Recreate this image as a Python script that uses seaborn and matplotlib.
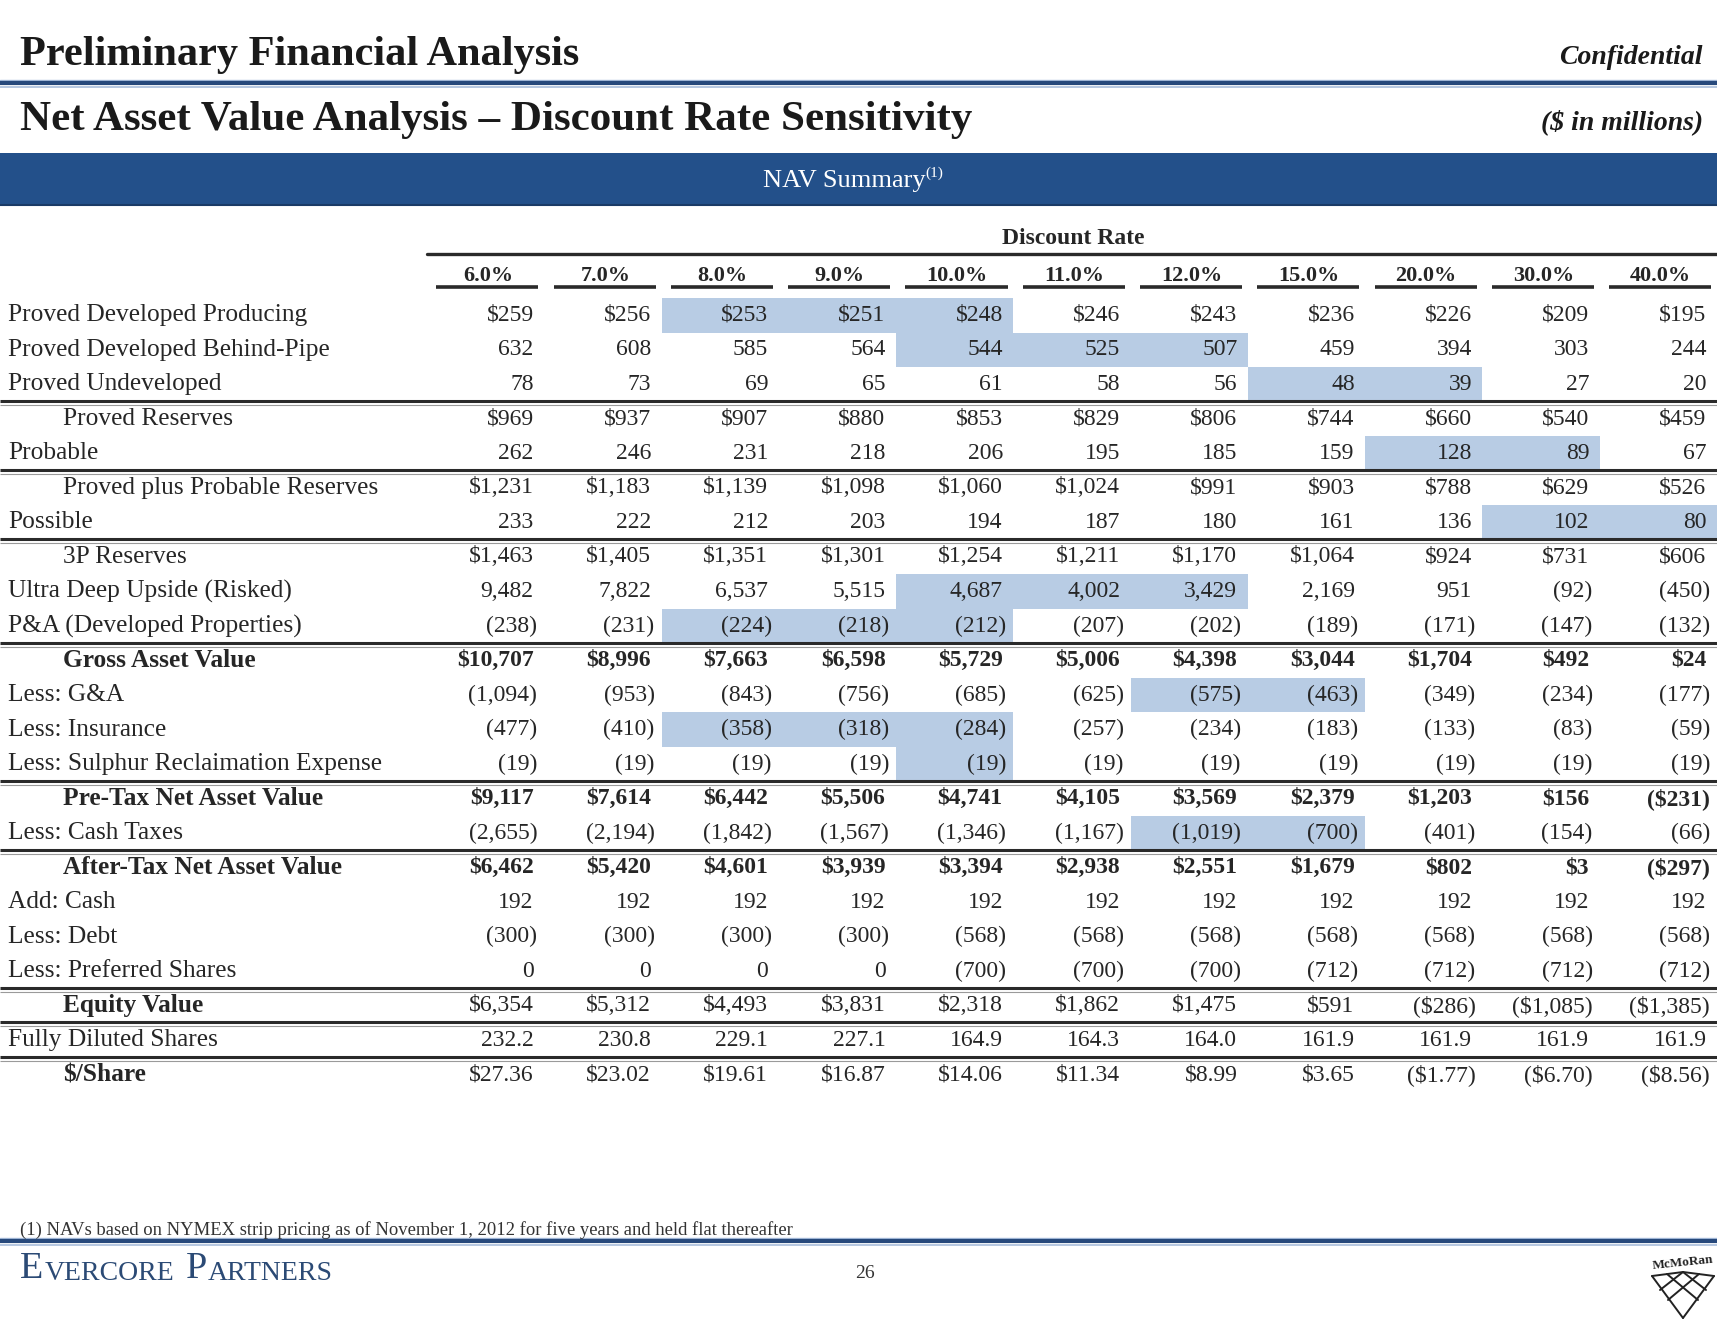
import numpy as np
import pandas as pd
import seaborn as sns
import matplotlib.pyplot as plt
from matplotlib.colors import ListedColormap
from matplotlib.lines import Line2D
from matplotlib.patches import Rectangle
from matplotlib.transforms import blended_transform_factory

# Discount rates (columns)
rates = ["6.0%", "7.0%", "8.0%", "9.0%", "10.0%", "11.0%", "12.0%",
         "15.0%", "20.0%", "30.0%", "40.0%"]

# NAV summary rows ($ in millions)
pdp = [259, 256, 253, 251, 248, 246, 243, 236, 226, 209, 195]
pdbp = [632, 608, 585, 564, 544, 525, 507, 459, 394, 303, 244]
pud = [78, 73, 69, 65, 61, 58, 56, 48, 39, 27, 20]
proved = [969, 937, 907, 880, 853, 829, 806, 744, 660, 540, 459]
probable = [262, 246, 231, 218, 206, 195, 185, 159, 128, 89, 67]
proved_probable = [1231, 1183, 1139, 1098, 1060, 1024, 991, 903, 788, 629, 526]
possible = [233, 222, 212, 203, 194, 187, 180, 161, 136, 102, 80]
reserves_3p = [1463, 1405, 1351, 1301, 1254, 1211, 1170, 1064, 924, 731, 606]
ultra_deep = [9482, 7822, 6537, 5515, 4687, 4002, 3429, 2169, 951, -92, -450]
p_and_a = [-238, -231, -224, -218, -212, -207, -202, -189, -171, -147, -132]
gross_asset = [10707, 8996, 7663, 6598, 5729, 5006, 4398, 3044, 1704, 492, 24]
g_and_a = [-1094, -953, -843, -756, -685, -625, -575, -463, -349, -234, -177]
insurance = [-477, -410, -358, -318, -284, -257, -234, -183, -133, -83, -59]
sulphur = [-19, -19, -19, -19, -19, -19, -19, -19, -19, -19, -19]
pretax_nav = [9117, 7614, 6442, 5506, 4741, 4105, 3569, 2379, 1203, 156, -231]
cash_taxes = [-2655, -2194, -1842, -1567, -1346, -1167, -1019, -700, -401, -154, -66]
aftertax_nav = [6462, 5420, 4601, 3939, 3394, 2938, 2551, 1679, 802, 3, -297]
cash = [192, 192, 192, 192, 192, 192, 192, 192, 192, 192, 192]
debt = [-300, -300, -300, -300, -568, -568, -568, -568, -568, -568, -568]
preferred = [0, 0, 0, 0, -700, -700, -700, -712, -712, -712, -712]
equity = [6354, 5312, 4493, 3831, 2318, 1862, 1475, 591, -286, -1085, -1385]
diluted_shares = [232.2, 230.8, 229.1, 227.1, 164.9, 164.3, 164.0, 161.9, 161.9, 161.9, 161.9]
per_share = [27.36, 23.02, 19.61, 16.87, 14.06, 11.34, 8.99, 3.65, -1.77, -6.70, -8.56]

# (label, values, dollar sign, decimals, indented, bold label, bold values)
rows = [
    ("Proved Developed Producing", pdp, True, 0, False, False, False),
    ("Proved Developed Behind-Pipe", pdbp, False, 0, False, False, False),
    ("Proved Undeveloped", pud, False, 0, False, False, False),
    ("Proved Reserves", proved, True, 0, True, False, False),
    ("Probable", probable, False, 0, False, False, False),
    ("Proved plus Probable Reserves", proved_probable, True, 0, True, False, False),
    ("Possible", possible, False, 0, False, False, False),
    ("3P Reserves", reserves_3p, True, 0, True, False, False),
    ("Ultra Deep Upside (Risked)", ultra_deep, False, 0, False, False, False),
    ("P&A (Developed Properties)", p_and_a, False, 0, False, False, False),
    ("Gross Asset Value", gross_asset, True, 0, True, True, True),
    ("Less: G&A", g_and_a, False, 0, False, False, False),
    ("Less: Insurance", insurance, False, 0, False, False, False),
    ("Less: Sulphur Reclaimation Expense", sulphur, False, 0, False, False, False),
    ("Pre-Tax Net Asset Value", pretax_nav, True, 0, True, True, True),
    ("Less: Cash Taxes", cash_taxes, False, 0, False, False, False),
    ("After-Tax Net Asset Value", aftertax_nav, True, 0, True, True, True),
    ("Add: Cash", cash, False, 0, False, False, False),
    ("Less: Debt", debt, False, 0, False, False, False),
    ("Less: Preferred Shares", preferred, False, 0, False, False, False),
    ("Equity Value", equity, True, 0, True, True, False),
    ("Fully Diluted Shares", diluted_shares, False, 1, False, False, False),
    ("$/Share", per_share, True, 2, True, True, False),
]

# highlighted (row, column) cells
highlight_cells = [(0, 2), (0, 3), (0, 4), (1, 4), (1, 5), (1, 6), (2, 7), (2, 8),
                   (4, 8), (4, 9), (6, 9), (6, 10), (8, 4), (8, 5), (8, 6),
                   (9, 2), (9, 3), (9, 4), (11, 6), (11, 7), (12, 2), (12, 3), (12, 4),
                   (13, 4), (15, 6), (15, 7)]

# row boundaries that get a rule
rule_after = [3, 5, 7, 10, 14, 16, 20, 21, 22]


def fmt(v, dollar, dec):
    s = f"{abs(v):,.{dec}f}"
    if dollar:
        s = "$" + s
    if v < 0:
        s = "(" + s + ")"
    return s


W, H = 1717, 1320
sns.set_style("white")
plt.rcParams['font.family'] = ['Liberation Serif', 'DejaVu Serif']
TXT = "#262626"
NAVY = "#23508A"


def fx(x):
    return x / W


def fy(y):
    return 1 - y / H


labels = [r[0] for r in rows]
mask = pd.DataFrame(np.zeros((len(rows), len(rates))), index=labels, columns=rates)
for r, c in highlight_cells:
    mask.iloc[r, c] = 1

fig = plt.figure(figsize=(W / 100, H / 100), dpi=100)
ax = fig.add_axes([fx(427), fy(1092), fx(1717) - fx(427), fy(298) - fy(1092)])
sns.heatmap(mask, cmap=ListedColormap(["white", "#B8CCE4"]), vmin=0, vmax=1,
            cbar=False, ax=ax, xticklabels=False, yticklabels=False)
ax.set_xlabel("")
ax.set_ylabel("")

row_trans = blended_transform_factory(fig.transFigure, ax.transData)
col_trans = blended_transform_factory(ax.transData, fig.transFigure)

# row labels and values
for i, (label, vals, dollar, dec, indent, bold_lab, bold_val) in enumerate(rows):
    ax.text(fx(63) if indent else fx(8), i + 0.5, label, transform=row_trans,
            ha="left", va="center", fontsize=18.3, color=TXT,
            fontweight="bold" if bold_lab else "normal")
    for j, v in enumerate(vals):
        x = j + 1 - 0.09 + (0.03 if v < 0 else 0)
        ax.text(x, i + 0.5, fmt(v, dollar, dec), ha="right", va="center",
                fontsize=17, color=TXT, fontweight="bold" if bold_val else "normal")

# horizontal rules across the page
for b in rule_after:
    ax.plot([0, 1], [b - 0.02, b - 0.02], transform=row_trans, color="#2a2a2a",
            lw=2.2, clip_on=False, solid_capstyle="butt")
    ax.plot([0, 1], [b + 0.1, b + 0.1], transform=row_trans, color="#9a9a9a",
            lw=0.8, clip_on=False, solid_capstyle="butt")

# column headers
fig.add_artist(Line2D([fx(427), 1], [fy(254), fy(254)], color="#2a2a2a", lw=2.4))
fig.text(fx(1073), fy(238), "Discount Rate", ha="center", va="center",
         fontsize=17, fontweight="bold", color=TXT)
for j, rate in enumerate(rates):
    ax.text(j + 0.52, fy(276), rate, transform=col_trans, ha="center", va="center",
            fontsize=16, fontweight="bold", color=TXT)
    ax.plot([j + 0.08, j + 0.95], [fy(287), fy(287)], transform=col_trans,
            color="#2a2a2a", lw=2.6, clip_on=False, solid_capstyle="butt")

# page header
fig.text(fx(20), fy(55), "Preliminary Financial Analysis", ha="left", va="center",
         fontsize=30.5, fontweight="bold", color="#1a1a1a")
fig.text(fx(1703), fy(57), "Confidential", ha="right", va="center",
         fontsize=20, fontweight="bold", fontstyle="italic", color="#1a1a1a")
fig.add_artist(Line2D([0, 1], [fy(80), fy(80)], color="#A9BEDC", lw=1.0))
fig.add_artist(Line2D([0, 1], [fy(83), fy(83)], color="#27497C", lw=3.0))
fig.add_artist(Line2D([0, 1], [fy(86.5), fy(86.5)], color="#A9BEDC", lw=1.2))
fig.text(fx(20), fy(120), "Net Asset Value Analysis \u2013 Discount Rate Sensitivity",
         ha="left", va="center", fontsize=31, fontweight="bold", color="#1a1a1a")
fig.text(fx(1703), fy(122), "($ in millions)", ha="right", va="center",
         fontsize=20, fontweight="bold", fontstyle="italic", color="#1a1a1a")

fig.add_artist(Rectangle((0, fy(206)), 1, fy(153) - fy(206), transform=fig.transFigure,
                         facecolor=NAVY, edgecolor="none", zorder=-1))
fig.add_artist(Line2D([0, 1], [fy(205), fy(205)], color="#1A3A66", lw=1.5, zorder=-1))
nav = fig.text(fx(844), fy(181), "NAV Summary", ha="center", va="center",
               fontsize=19, color="white")
sup = ax.annotate("(1)", xy=(1, 0.55), xycoords=nav, ha="left", va="bottom",
                  fontsize=11, color="white", annotation_clip=False)
sup.set_zorder(5)

# footer
fig.text(fx(20), fy(1230), "(1) NAVs based on NYMEX strip pricing as of November 1, 2012 "
         "for five years and held flat thereafter", ha="left", va="center",
         fontsize=13.4, color="#333333")
fig.add_artist(Line2D([0, 1], [fy(1238), fy(1238)], color="#A9BEDC", lw=1.0))
fig.add_artist(Line2D([0, 1], [fy(1241), fy(1241)], color="#27497C", lw=3.0))
fig.add_artist(Line2D([0, 1], [fy(1244.5), fy(1244.5)], color="#A9BEDC", lw=1.2))

EV = "#2B4A75"
e1 = fig.text(fx(20), fy(1286), "E", ha="left", va="bottom", fontsize=27.5, color=EV)
e2 = ax.annotate("VERCORE", xy=(1, 0), xycoords=e1, ha="left", va="bottom",
                 fontsize=20, color=EV, xytext=(1, 0), textcoords="offset points",
                 annotation_clip=False)
e3 = ax.annotate("P", xy=(1, 0), xycoords=e2, ha="left", va="bottom",
                 fontsize=27.5, color=EV, xytext=(8, 0), textcoords="offset points",
                 annotation_clip=False)
ax.annotate("ARTNERS", xy=(1, 0), xycoords=e3, ha="left", va="bottom",
            fontsize=20, color=EV, xytext=(1, 0), textcoords="offset points",
            annotation_clip=False)
fig.text(fx(865), fy(1273), "26", ha="center", va="center", fontsize=14, color="#333333")

# McMoRan logo (text plus a simple lattice)
fig.text(fx(1683), fy(1263), "McMoRan", ha="center", va="center", fontsize=9.5,
         fontweight="bold", color="#222222", rotation=6)
logo = [((1652, 1276), (1683, 1318)), ((1714, 1276), (1683, 1318)),
        ((1652, 1276), (1683, 1272)), ((1683, 1272), (1714, 1276)),
        ((1667, 1274), (1698, 1300)), ((1699, 1274), (1668, 1300)),
        ((1683, 1272), (1706, 1290)), ((1683, 1272), (1660, 1290))]
for (x0, y0), (x1, y1) in logo:
    fig.add_artist(Line2D([fx(x0), fx(x1)], [fy(y0), fy(y1)], color="#222222", lw=1.4))

fig.savefig("out.png", dpi=100)
plt.close(fig)
